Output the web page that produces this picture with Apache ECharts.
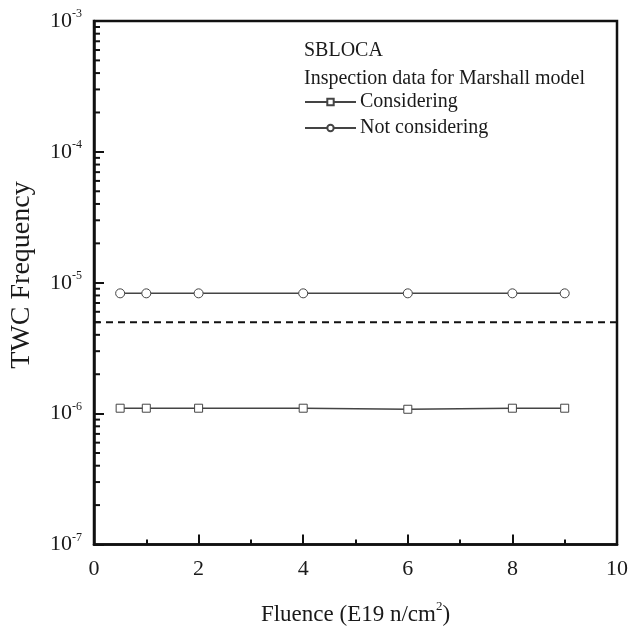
<!DOCTYPE html>
<html>
<head>
<meta charset="utf-8">
<script src="https://cdn.jsdelivr.net/npm/echarts@6/dist/echarts.min.js"></script>
<style>
  html, body { margin: 0; padding: 0; background: #fff; }
  #chart { width: 631px; height: 631px; }
</style>
</head>
<body>
<div id="chart"></div>
<script>
// data
const fluence = [0.5, 1, 2, 4, 6, 8, 9];
const considering = [1.1e-6, 1.1e-6, 1.1e-6, 1.1e-6, 1.08e-6, 1.1e-6, 1.1e-6];
const notConsidering = [8.3e-6, 8.3e-6, 8.3e-6, 8.3e-6, 8.3e-6, 8.3e-6, 8.3e-6];
const threshold = 5e-6;
const yMin = 1e-7, yMax = 1e-3;
const xTicks = [0, 2, 4, 6, 8, 10];

// minor ticks of the log axis: 2..9 in every decade
const minorTicks = [];
for (let e = -7; e < -3; e++) {
    for (let m = 2; m <= 9; m++) minorTicks.push(m * Math.pow(10, e));
}

const FONT = '"Liberation Serif", "Times New Roman", serif';
const INK = '#1a1a1a';
const LINE = '#444';

let chart = echarts.init(document.getElementById('chart'));

let option = {
    backgroundColor: '#fff',
    animation: false,
    textStyle: { fontFamily: FONT, color: INK },
    title: {
        text: 'SBLOCA\nInspection data for Marshall model',
        left: 299,
        top: 32,
        textStyle: { fontFamily: FONT, fontSize: 20, fontWeight: 'normal', color: INK, lineHeight: 28 }
    },
    legend: {
        orient: 'vertical',
        left: 304,
        top: 92,
        padding: 0,
        itemWidth: 51,
        itemHeight: 8,
        itemGap: 6,
        data: ['Considering', 'Not considering'],
        textStyle: { fontFamily: FONT, fontSize: 20, color: INK, lineHeight: 20, padding: [0, 0, 0, -1] }
    },
    graphic: [{
        type: 'text',
        x: 22,
        y: 275,
        rotation: Math.PI / 2,
        style: {
            text: 'TWC Frequency',
            font: '28px ' + FONT,
            fill: INK,
            textAlign: 'center',
            textVerticalAlign: 'middle'
        }
    }],
    grid: {
        left: 94, right: 12, top: 21, bottom: 84,
        show: true, borderColor: '#111', borderWidth: 2.5,
        backgroundColor: 'transparent'
    },
    xAxis: {
        type: 'value',
        min: xTicks[0],
        max: xTicks[xTicks.length - 1],
        interval: 2,
        name: '{t|Fluence (E19 n/cm}{s|2}{t|)}',
        nameLocation: 'middle',
        nameGap: 56,
        nameTextStyle: {
            rich: {
                t: { fontFamily: FONT, fontSize: 23, color: INK, lineHeight: 28 },
                s: { fontFamily: FONT, fontSize: 13, color: INK, lineHeight: 13, verticalAlign: 'top' }
            }
        },
        axisLine: { lineStyle: { color: '#111', width: 2.5 } },
        axisTick: { inside: true, length: 10, lineStyle: { color: '#111', width: 2 } },
        minorTick: { show: true, splitNumber: 2, length: 5, lineStyle: { color: '#111', width: 2 } },
        splitLine: { show: false },
        axisLabel: { fontFamily: FONT, fontSize: 22, color: INK, margin: 14 }
    },
    yAxis: {
        type: 'log',
        logBase: 10,
        min: yMin,
        max: yMax,
        axisLine: { lineStyle: { color: '#111', width: 2.5 } },
        axisTick: { inside: true, length: 10, lineStyle: { color: '#111', width: 2 } },
        splitLine: { show: false },
        axisLabel: {
            margin: 12,
            formatter: function (v) {
                let e = Math.round(Math.log10(v));
                return '{b|10}{s|' + e + '}';
            },
            rich: {
                b: { fontFamily: FONT, fontSize: 22, color: INK, lineHeight: 26 },
                s: { fontFamily: FONT, fontSize: 12, color: INK, lineHeight: 12, verticalAlign: 'top' }
            }
        }
    },
    series: [
        {
            name: 'Considering',
            type: 'line',
            data: fluence.map((x, i) => [x, considering[i]]),
            symbol: 'rect',
            symbolSize: 8,
            lineStyle: { color: LINE, width: 1.5 },
            itemStyle: { color: '#fff', borderColor: LINE, borderWidth: 1 }
        },
        {
            name: 'Not considering',
            type: 'line',
            data: fluence.map((x, i) => [x, notConsidering[i]]),
            symbol: 'circle',
            symbolSize: 9,
            lineStyle: { color: LINE, width: 1.5 },
            itemStyle: { color: '#fff', borderColor: LINE, borderWidth: 1 }
        },
        {
            name: 'threshold',
            type: 'line',
            silent: true,
            symbol: 'none',
            data: [[xTicks[0], threshold], [xTicks[xTicks.length - 1], threshold]],
            lineStyle: { color: '#111', width: 2, type: [7, 5] }
        },
        {
            type: 'custom',
            silent: true,
            clip: false,
            data: minorTicks.map(v => [0, v]),
            renderItem: function (params, api) {
                let p = api.coord([0, api.value(1)]);
                return {
                    type: 'line',
                    shape: { x1: p[0], y1: p[1], x2: p[0] + 6, y2: p[1] },
                    style: { stroke: '#111', lineWidth: 2 }
                };
            }
        }
    ]
};

chart.setOption(option);
</script>
</body>
</html>
